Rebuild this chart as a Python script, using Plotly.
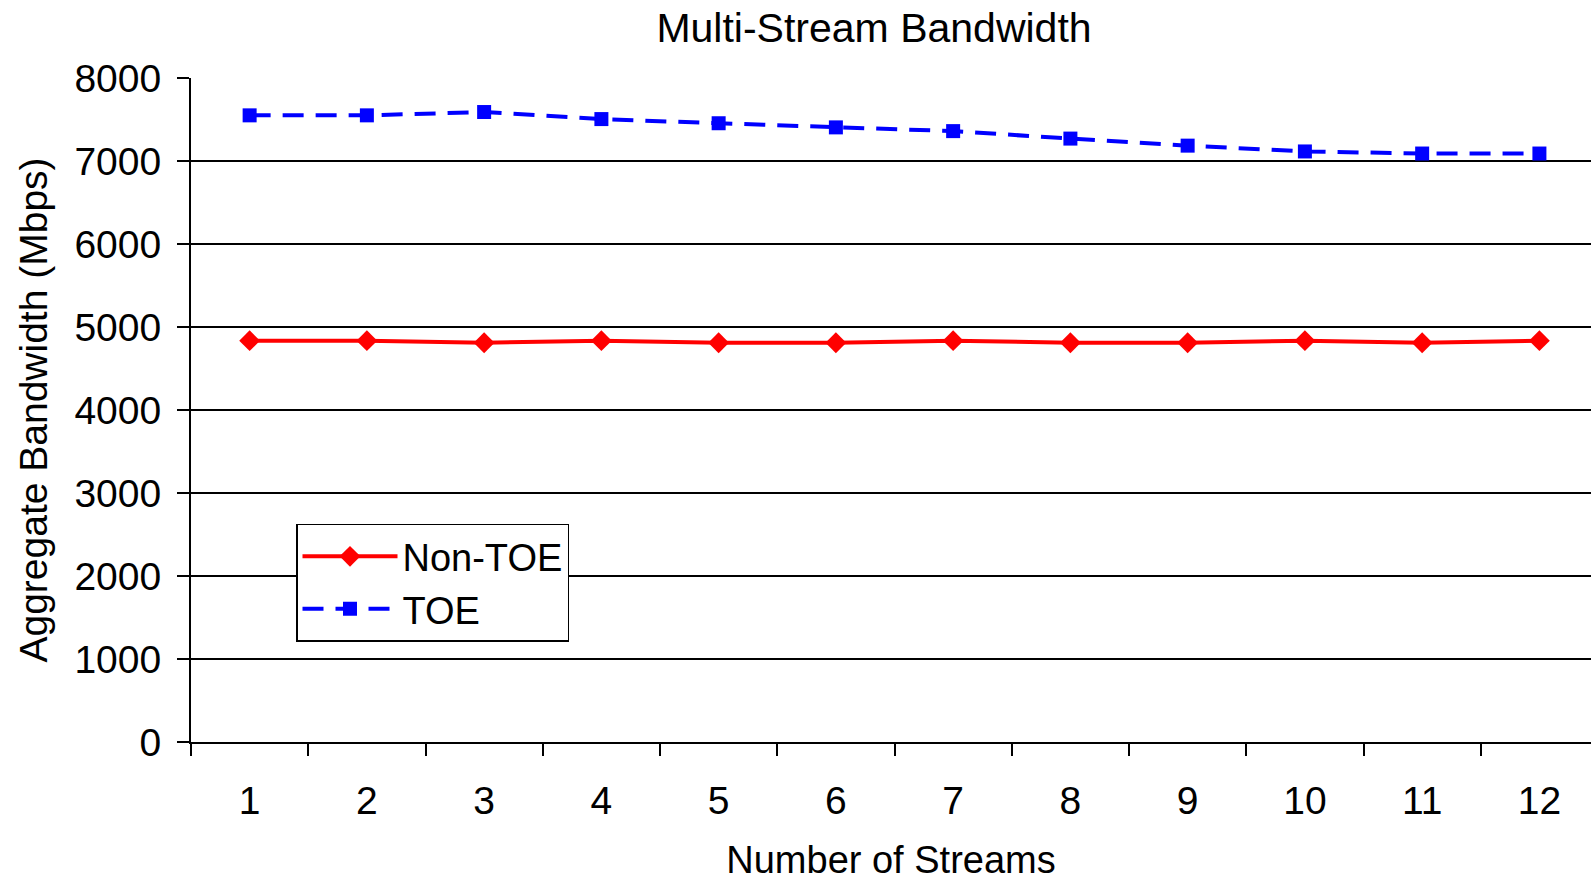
import plotly.graph_objects as go

streams = ["1", "2", "3", "4", "5", "6", "7", "8", "9", "10", "11", "12"]
non_toe = [4835, 4835, 4810, 4835, 4810, 4810, 4835, 4810, 4810, 4835, 4810, 4835]
toe = [7550, 7550, 7590, 7505, 7455, 7405, 7360, 7270, 7185, 7115, 7090, 7090]
y_ticks = [0, 1000, 2000, 3000, 4000, 5000, 6000, 7000, 8000]

FONT = "Liberation Sans, Arial, sans-serif"
W, H = 1591, 881
L, T, B = 191, 78, 137

fig = go.Figure()
fig.add_trace(go.Scatter(
    x=streams, y=non_toe, name="Non-TOE", mode="lines+markers",
    line=dict(color="#ff0000", width=4),
    marker=dict(symbol="diamond", size=16, color="#ff0000"),
))
fig.add_trace(go.Scatter(
    x=streams, y=toe, name="TOE", mode="lines+markers",
    line=dict(color="#0000ff", width=4, dash="21px,12px"),
    marker=dict(symbol="square", size=14, color="#0000ff"),
))

fig.update_layout(
    width=W, height=H,
    margin=dict(l=L, r=0, t=T, b=B, pad=0),
    paper_bgcolor="white", plot_bgcolor="white",
    font=dict(family=FONT, size=39, color="black"),
    title=dict(text="Multi-Stream Bandwidth", x=874 / W, xref="container", xanchor="center",
               y=1 - 28 / H, yref="container", yanchor="middle",
               font=dict(size=41, color="black", family=FONT)),
    showlegend=True,
    legend=dict(x=(296 - L) / (W - L), y=(744 - 525) / (H - T - B), xanchor="left", yanchor="top",
                bordercolor="black", borderwidth=1.5, bgcolor="white",
                font=dict(size=38, family=FONT, color="black"),
                tracegroupgap=0, itemwidth=95),
)
fig.update_xaxes(
    type="category", range=[-0.5, 11.44], tickson="boundaries",
    ticks="outside", ticklen=12, tickwidth=1.5, tickcolor="black",
    showline=True, linecolor="black", linewidth=2,
    showgrid=False, zeroline=False,
    tickfont=dict(size=39, family=FONT), ticklabelstandoff=23,
    title=dict(text="Number of Streams", font=dict(size=38, family=FONT), standoff=33),
)
fig.update_yaxes(
    range=[0, 8000], tickvals=y_ticks, ticktext=[str(v) for v in y_ticks],
    ticks="outside", ticklen=12, tickwidth=1.5, tickcolor="black",
    showline=True, linecolor="black", linewidth=2,
    showgrid=True, gridcolor="black", gridwidth=2, zeroline=False,
    tickfont=dict(size=39, family=FONT), ticklabelstandoff=8,
    title=dict(text="Aggregate Bandwidth (Mbps)", font=dict(size=39, family=FONT), standoff=15),
)

fig.write_html("out.html")
